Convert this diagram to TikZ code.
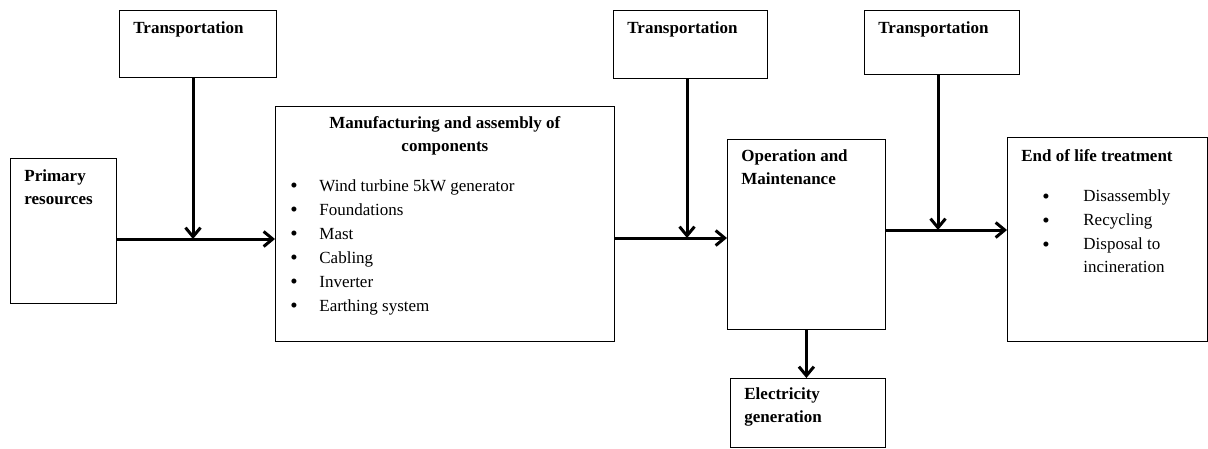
\documentclass[tikz,border=0pt]{standalone}
\usepackage{fontspec}
\setmainfont{Liberation Serif}
\usepackage{tikz}
\usetikzlibrary{arrows.meta, positioning}
\newcommand{\bodyfont}{\fontsize{17}{22.5}\selectfont}
% top-aligned box content: width, height, top gap, text
\newcommand{\stagetext}[4]{\parbox[c][#2][t]{#1}{\vspace*{#3}#4}}
\newcommand{\bul}[1]{\makebox[#1][l]{\raisebox{-1.5pt}{\fontsize{21}{21}\selectfont\textbullet}}}
\tikzset{
  stage/.style={
    rectangle, draw=black, line width=0.8pt,
    inner xsep=14pt, inner ysep=0pt,
    anchor=north west, font=\bodyfont
  },
  flow/.style={-{Straight Barb[length=9pt, width=15pt]}, line width=3pt},
}

\begin{document}
\begin{tikzpicture}[x=1pt, y=-1pt]

  \useasboundingbox (0,0) rectangle (1208,448);

  % Nodes
  \node[stage] (trans1) at (119,10)  {\stagetext{129pt}{67pt}{11.5pt}{\textbf{Transportation}}};
  \node[stage] (trans2) at (613,10)  {\stagetext{126pt}{68pt}{11.5pt}{\textbf{Transportation}}};
  \node[stage] (trans3) at (864,10)  {\stagetext{127pt}{64pt}{11.5pt}{\textbf{Transportation}}};

  \node[stage] (prim) at (10,158) {\stagetext{78pt}{145pt}{11.5pt}{\textbf{Primary\\ resources}}};

  \node[stage] (manu) at (275,106) {\stagetext{311pt}{235pt}{10.5pt}{%
    {\centering\textbf{Manufacturing and assembly of\\ components}\par}
    \vspace{17.5pt}
    \hspace*{1pt}\bul{29pt}Wind turbine 5kW generator\\[1.5pt]
    \hspace*{1pt}\bul{29pt}Foundations\\[1.5pt]
    \hspace*{1pt}\bul{29pt}Mast\\[1.5pt]
    \hspace*{1pt}\bul{29pt}Cabling\\[1.5pt]
    \hspace*{1pt}\bul{29pt}Inverter\\[1.5pt]
    \hspace*{1pt}\bul{29pt}Earthing system}};

  \node[stage] (ops) at (727,139) {\stagetext{130pt}{190pt}{10.5pt}{\textbf{Operation and\\ Maintenance}}};

  \node[stage] (elec) at (730,378) {\stagetext{127pt}{69pt}{9.5pt}{\textbf{Electricity\\ generation}}};

  \node[stage] (eol) at (1007,137) {\stagetext{172pt}{204pt}{12.5pt}{%
    \textbf{End of life treatment}\par
    \vspace{17.5pt}
    \hspace*{21pt}\bul{41pt}Disassembly\\[1.5pt]
    \hspace*{21pt}\bul{41pt}Recycling\\[1.5pt]
    \hspace*{21pt}\bul{41pt}Disposal to\\[0.5pt]
    \hspace*{62pt}incineration}};

  % Junctions on the main line
  \coordinate (j1) at (193,239);
  \coordinate (j2) at (687,238);
  \coordinate (j3) at (938,230);

  % Arrows
  \draw[flow] (prim.east |- j1) -- (manu.west |- j1);
  \draw[flow] (trans1.south -| j1) -- (j1);

  \draw[flow] (manu.east |- j2) -- (ops.west |- j2);
  \draw[flow] (trans2.south -| j2) -- (j2);

  \draw[flow] (ops.east |- j3) -- (eol.west |- j3);
  \draw[flow] (trans3.south -| j3) -- (j3);

  \draw[flow] (ops.south) -- (ops.south |- elec.north);

\end{tikzpicture}
\end{document}
